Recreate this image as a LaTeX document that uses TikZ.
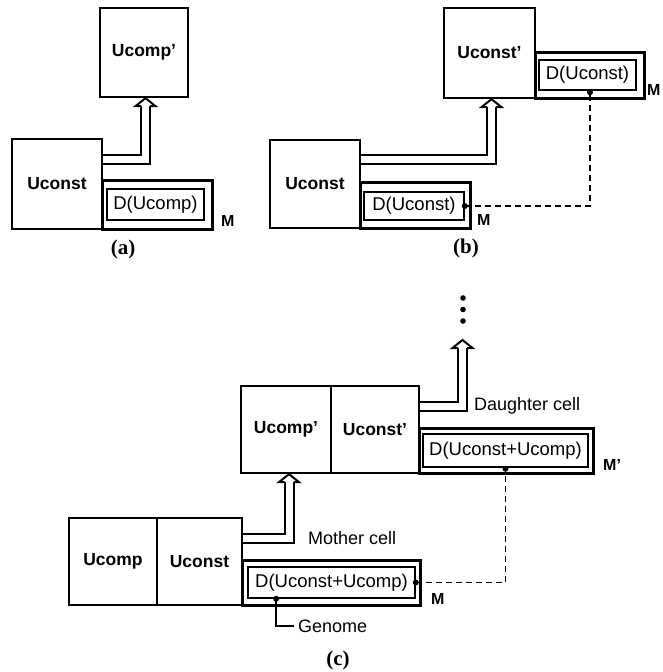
\documentclass[tikz,border=0pt]{standalone}
\usepackage{fontspec}
\setmainfont{Liberation Serif}
\setsansfont{Liberation Sans}
\usetikzlibrary{calc,arrows.meta}
\newcommand\upheadat[1]{\draw[headst] ($#1+(-4.5,8)$) -- ($#1+(-10,8)$) -- #1 -- ($#1+(10,8)$) -- ($#1+(4.5,8)$);}
\begin{document}
\begin{tikzpicture}[x=1pt,y=-1pt,
  box/.style={draw,line width=2.3pt,inner sep=0pt,font=\sffamily\bfseries\fontsize{17.5}{17.5}\selectfont},
  mbox/.style={draw,line width=3pt,inner sep=0pt},
  dbox/.style={draw,line width=1.6pt,inner sep=0pt,font=\sffamily\fontsize{18.5}{18.5}\selectfont},
  mlabel/.style={anchor=west,inner sep=0pt,font=\sffamily\bfseries\fontsize{16}{16}\selectfont},
  txt/.style={anchor=west,inner sep=0pt,font=\sffamily\fontsize{18}{18}\selectfont},
  capt/.style={inner sep=0pt,font=\bfseries\fontsize{21}{21}\selectfont},
  dbl/.style={double,double distance=7pt,line width=2pt,shorten >=8pt},
  headst/.style={line width=2pt,line join=miter},
  dsh/.style={line width=1.4pt,dash pattern=on 6pt off 4pt},
  gen/.style={line width=1.7pt}
]
\useasboundingbox (0,0) rectangle (662,672);

% ---------- (a)
\node[box,minimum width=88pt,minimum height=89pt] (aTop) at (144,52.5) {Ucomp'};
\node[box,minimum width=90pt,minimum height=90pt] (aU) at (57,184) {Uconst};
\node[mbox,minimum width=110pt,minimum height=49pt] (aM) at (157,204.5) {};
\node[dbox,minimum width=97pt,minimum height=31pt] (aD) at (155.5,204.5) {D(Ucomp)};
\node[mlabel] (aML) at (221,221) {M};
\node[capt] (aCap) at (123,249) {(a)};
\coordinate (aTip) at ($(aTop.south)+(1.5,0)$);
\draw[dbl] ($(aU.north east)+(0,22)$) -| (aTip);
\upheadat{(aTip)}

% ---------- (b)
\node[box,minimum width=91pt,minimum height=90pt] (bTop) at (489.5,53) {Uconst'};
\node[mbox,minimum width=109pt,minimum height=46pt] (bTM) at (589.5,75) {};
\node[dbox,minimum width=97pt,minimum height=30pt] (bTD) at (587.5,75) {D(Uconst)};
\node[mlabel] (bTML) at (647,90) {M};
\node[box,minimum width=90pt,minimum height=88pt] (bU) at (315,184) {Uconst};
\node[mbox,minimum width=110pt,minimum height=46pt] (bM) at (415,205) {};
\node[dbox,minimum width=100pt,minimum height=28pt] (bD) at (414,206) {D(Uconst)};
\node[mlabel] (bML) at (477,220) {M};
\node[capt] (bCap) at (466,248) {(b)};
\coordinate (bTip) at ($(bTop.south)+(2,0)$);
\draw[dbl] ($(bU.north east)+(0,21)$) -| (bTip);
\upheadat{(bTip)}
\draw[dsh] (bD.east) -| ($(bTD.south)+(2.5,0)$);
\fill (bD.east) circle (3);
\fill ($(bTD.south)+(2.5,1.5)$) circle (3);

% ---------- (c) upper
\node[box,minimum width=90pt,minimum height=87pt] (cUpP) at (286,429.5) {Ucomp'};
\node[box,minimum width=88pt,minimum height=87pt] (cUsP) at (375,429.5) {Uconst'};
\node[mbox,minimum width=174pt,minimum height=45pt] (cTM) at (506,450.5) {};
\node[dbox,minimum width=165pt,minimum height=33pt] (cTD) at (505.5,450.5) {D(Uconst+Ucomp)};
\node[mlabel] (cTML) at (603,465) {M'};
\coordinate (cTop) at (462.5,340);
\draw[dbl] ($(cUsP.north east)+(0,21.5)$) -| (cTop);
\upheadat{(cTop)}
\fill (463,298) circle (2.8);
\fill (463,309.5) circle (2.8);
\fill (463,321) circle (2.8);
\node[txt] (dLab) at (474,406) {Daughter cell};

% ---------- (c) lower
\node[box,minimum width=88pt,minimum height=87pt] (cUp) at (113,561.5) {Ucomp};
\node[box,minimum width=85pt,minimum height=87pt] (cUs) at (199.5,561.5) {Uconst};
\node[mbox,minimum width=178pt,minimum height=45pt] (cM) at (331,582.5) {};
\node[dbox,minimum width=167pt,minimum height=31pt] (cD) at (331.5,582.5) {D(Uconst+Ucomp)};
\node[mlabel] (cML) at (431,599) {M};
\node[txt] (mLab) at (308,538) {Mother cell};
\coordinate (cTip) at ($(cUpP.south)+(3,0)$);
\draw[dbl] ($(cUs.north east)+(0,21.5)$) -| (cTip);
\upheadat{(cTip)}
\draw[dsh] (cD.east) -| (cTD.south);
\fill (cD.east) circle (3);
\fill ($(cTD.south)+(0,1)$) circle (3);
\node[txt] (gLab) at (298,626) {Genome};
\coordinate (gDot) at ($(cD.south west)+(29,0)$);
\draw[gen] (gDot) |- ($(gLab.west)+(-4,0)$);
\fill (gDot) circle (3);
\node[capt] (cCap) at (338,660) {(c)};
\end{tikzpicture}
\end{document}
